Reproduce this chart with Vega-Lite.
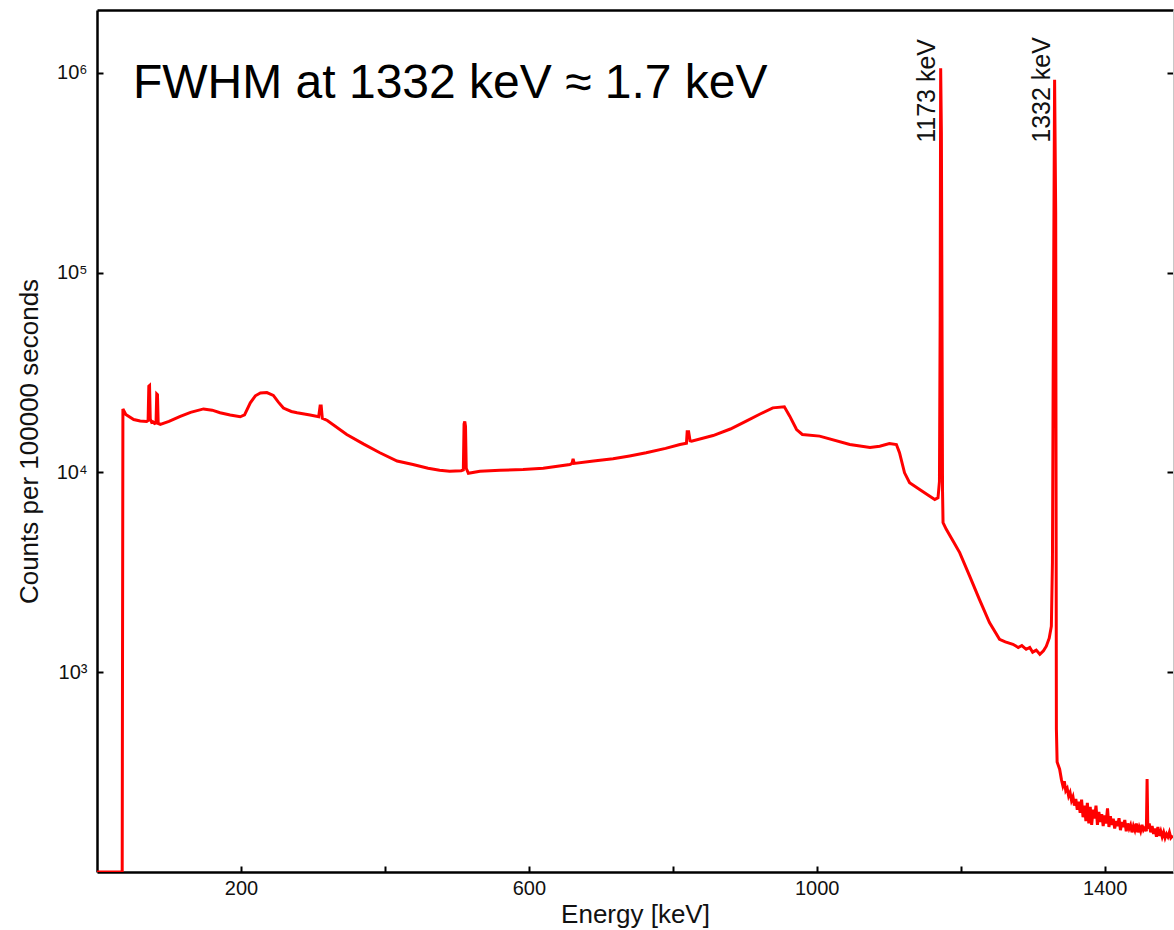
{
  "$schema": "https://vega.github.io/schema/vega-lite/v6.json",
  "width": 1076,
  "height": 862,
  "autosize": {"type": "none"},
  "padding": {"left": 97, "top": 10, "right": 1, "bottom": 58},
  "background": "white",
  "config": {"font": "Liberation Sans", "view": {"stroke": null}},
  "datasets": {
    "spectrum": [
      {"energy": 0, "counts": 100}, {"energy": 35, "counts": 100}, {"energy": 36, "counts": 20800},
      {"energy": 40, "counts": 19500}, {"energy": 51, "counts": 18400}, {"energy": 60, "counts": 18100},
      {"energy": 69, "counts": 18000}, {"energy": 71, "counts": 18200}, {"energy": 72, "counts": 27000},
      {"energy": 73, "counts": 27200}, {"energy": 74, "counts": 18500}, {"energy": 76, "counts": 17800},
      {"energy": 78, "counts": 17900}, {"energy": 80, "counts": 17600}, {"energy": 82, "counts": 17700},
      {"energy": 83, "counts": 24700}, {"energy": 84, "counts": 24500}, {"energy": 85, "counts": 17600},
      {"energy": 88, "counts": 17400}, {"energy": 100, "counts": 18000}, {"energy": 115.7, "counts": 19100},
      {"energy": 130, "counts": 20000}, {"energy": 148, "counts": 20800}, {"energy": 160, "counts": 20500},
      {"energy": 171, "counts": 19900}, {"energy": 185, "counts": 19400}, {"energy": 199, "counts": 19000},
      {"energy": 205, "counts": 19400}, {"energy": 213, "counts": 22300}, {"energy": 220, "counts": 24200},
      {"energy": 227, "counts": 25000}, {"energy": 236, "counts": 25100}, {"energy": 245, "counts": 24300},
      {"energy": 252, "counts": 22500}, {"energy": 259, "counts": 21000}, {"energy": 270, "counts": 20200},
      {"energy": 278, "counts": 19900}, {"energy": 296, "counts": 19400}, {"energy": 308, "counts": 19000},
      {"energy": 310, "counts": 21500}, {"energy": 311.5, "counts": 21500}, {"energy": 313, "counts": 18700},
      {"energy": 320, "counts": 18200}, {"energy": 347, "counts": 15500}, {"energy": 370, "counts": 13900},
      {"energy": 393, "counts": 12550}, {"energy": 417, "counts": 11400}, {"energy": 439, "counts": 10960},
      {"energy": 460, "counts": 10500}, {"energy": 476, "counts": 10270}, {"energy": 490, "counts": 10150},
      {"energy": 506, "counts": 10200}, {"energy": 509, "counts": 10300}, {"energy": 510, "counts": 17500},
      {"energy": 511, "counts": 18000}, {"energy": 512, "counts": 17000}, {"energy": 513, "counts": 10500},
      {"energy": 516, "counts": 9900}, {"energy": 532, "counts": 10150}, {"energy": 560, "counts": 10250},
      {"energy": 592, "counts": 10350}, {"energy": 620, "counts": 10500}, {"energy": 657, "counts": 10960},
      {"energy": 660, "counts": 11100}, {"energy": 661.5, "counts": 11700}, {"energy": 663, "counts": 11100},
      {"energy": 690, "counts": 11400}, {"energy": 717, "counts": 11700}, {"energy": 740, "counts": 12100},
      {"energy": 763, "counts": 12550}, {"energy": 790, "counts": 13200}, {"energy": 810, "counts": 13800},
      {"energy": 819, "counts": 14000}, {"energy": 820, "counts": 16000}, {"energy": 822, "counts": 16000},
      {"energy": 824, "counts": 14400}, {"energy": 826, "counts": 14350}, {"energy": 856, "counts": 15300},
      {"energy": 880, "counts": 16500}, {"energy": 902, "counts": 18060}, {"energy": 920, "counts": 19500},
      {"energy": 939, "counts": 21050}, {"energy": 955, "counts": 21300}, {"energy": 962.5, "counts": 19130},
      {"energy": 972, "counts": 16400}, {"energy": 980, "counts": 15500}, {"energy": 1004, "counts": 15200},
      {"energy": 1046, "counts": 13800}, {"energy": 1074, "counts": 13330}, {"energy": 1087.5, "counts": 13540},
      {"energy": 1101, "counts": 13960}, {"energy": 1110.7, "counts": 13800}, {"energy": 1115, "counts": 12550},
      {"energy": 1122, "counts": 9960}, {"energy": 1129, "counts": 8880}, {"energy": 1143, "counts": 8220},
      {"energy": 1155, "counts": 7700}, {"energy": 1164, "counts": 7330}, {"energy": 1168.5, "counts": 7470},
      {"energy": 1170.5, "counts": 9000}, {"energy": 1171.5, "counts": 60000}, {"energy": 1172.2, "counts": 1056000},
      {"energy": 1173.2, "counts": 500000}, {"energy": 1174.8, "counts": 8000}, {"energy": 1175.5, "counts": 5600},
      {"energy": 1180, "counts": 5190}, {"energy": 1190, "counts": 4500}, {"energy": 1198.6, "counts": 3970},
      {"energy": 1212.5, "counts": 3030}, {"energy": 1226, "counts": 2317}, {"energy": 1240, "counts": 1772},
      {"energy": 1254, "counts": 1462}, {"energy": 1262, "counts": 1420}, {"energy": 1272.6, "counts": 1380},
      {"energy": 1280, "counts": 1330}, {"energy": 1285, "counts": 1360}, {"energy": 1291, "counts": 1303},
      {"energy": 1296, "counts": 1330}, {"energy": 1300, "counts": 1260}, {"energy": 1305, "counts": 1290},
      {"energy": 1310, "counts": 1230}, {"energy": 1315, "counts": 1280}, {"energy": 1319, "counts": 1350},
      {"energy": 1323, "counts": 1480}, {"energy": 1326, "counts": 1700}, {"energy": 1327.5, "counts": 3550},
      {"energy": 1328.5, "counts": 30000}, {"energy": 1330.5, "counts": 923000}, {"energy": 1332, "counts": 200000},
      {"energy": 1333, "counts": 519}, {"energy": 1334, "counts": 355}, {"energy": 1337.5, "counts": 327},
      {"energy": 1340, "counts": 290}, {"energy": 1342, "counts": 270}, {"energy": 1344, "counts": 285},
      {"energy": 1346, "counts": 255}, {"energy": 1348, "counts": 262}, {"energy": 1350, "counts": 240},
      {"energy": 1352, "counts": 250}, {"energy": 1354, "counts": 228}, {"energy": 1356, "counts": 238},
      {"energy": 1358, "counts": 215}, {"energy": 1360, "counts": 232}, {"energy": 1362, "counts": 205},
      {"energy": 1364, "counts": 225}, {"energy": 1366, "counts": 198}, {"energy": 1368, "counts": 230},
      {"energy": 1370, "counts": 188}, {"energy": 1372, "counts": 215}, {"energy": 1374, "counts": 180},
      {"energy": 1376, "counts": 222}, {"energy": 1378, "counts": 175}, {"energy": 1380, "counts": 212},
      {"energy": 1382, "counts": 172}, {"energy": 1384, "counts": 205}, {"energy": 1386, "counts": 185},
      {"energy": 1388, "counts": 215}, {"energy": 1390, "counts": 172}, {"energy": 1392, "counts": 200},
      {"energy": 1394, "counts": 178}, {"energy": 1396, "counts": 195}, {"energy": 1398, "counts": 170},
      {"energy": 1400, "counts": 192}, {"energy": 1402, "counts": 175}, {"energy": 1404, "counts": 208},
      {"energy": 1406, "counts": 168}, {"energy": 1408, "counts": 190}, {"energy": 1410, "counts": 172},
      {"energy": 1412, "counts": 185}, {"energy": 1414, "counts": 165}, {"energy": 1416, "counts": 180},
      {"energy": 1418, "counts": 170}, {"energy": 1420, "counts": 186}, {"energy": 1422, "counts": 162},
      {"energy": 1424, "counts": 178}, {"energy": 1426, "counts": 168}, {"energy": 1428, "counts": 182},
      {"energy": 1430, "counts": 160}, {"energy": 1432, "counts": 175}, {"energy": 1434, "counts": 165},
      {"energy": 1436, "counts": 172}, {"energy": 1438, "counts": 158}, {"energy": 1440, "counts": 170},
      {"energy": 1442, "counts": 162}, {"energy": 1444, "counts": 175}, {"energy": 1446, "counts": 158},
      {"energy": 1448, "counts": 168}, {"energy": 1450, "counts": 160}, {"energy": 1452, "counts": 172},
      {"energy": 1454, "counts": 162}, {"energy": 1456, "counts": 166}, {"energy": 1458, "counts": 160},
      {"energy": 1459, "counts": 292}, {"energy": 1460, "counts": 165}, {"energy": 1462, "counts": 175},
      {"energy": 1464, "counts": 158}, {"energy": 1466, "counts": 170}, {"energy": 1468, "counts": 155},
      {"energy": 1470, "counts": 165}, {"energy": 1472, "counts": 150}, {"energy": 1474, "counts": 168},
      {"energy": 1476, "counts": 152}, {"energy": 1478, "counts": 160}, {"energy": 1480, "counts": 150},
      {"energy": 1482, "counts": 158}, {"energy": 1484, "counts": 148}, {"energy": 1486, "counts": 155},
      {"energy": 1488, "counts": 150}, {"energy": 1490, "counts": 158}, {"energy": 1492, "counts": 148},
      {"energy": 1495, "counts": 152}
    ],
    "peaks": [
      {"energy": 1173, "label": "1173 keV"},
      {"energy": 1332, "label": "1332 keV"}
    ],
    "note": [
      {"energy": 50, "counts": 750000, "label": "FWHM at 1332 keV ≈ 1.7 keV"}
    ]
  },
  "layer": [
    {
      "data": {"name": "spectrum"},
      "mark": {"type": "line", "color": "#ff0000", "strokeWidth": 3, "clip": true},
      "encoding": {
        "x": {
          "field": "energy", "type": "quantitative",
          "scale": {"domain": [0, 1495], "nice": false, "zero": false},
          "axis": {
            "orient": "bottom", "title": "Energy [keV]", "grid": false,
            "values": [200, 400, 600, 800, 1000, 1200, 1400], "format": "d",
            "labelExpr": "datum.value % 400 == 200 ? datum.label : ''",
            "tickSize": -6, "tickWidth": 2, "tickColor": "#000",
            "domainColor": "#000", "domainWidth": 2.5,
            "labelPadding": 12, "labelFontSize": 20, "labelColor": "#111",
            "titleFontSize": 26, "titleFontWeight": "normal", "titleColor": "#111", "titlePadding": 3
          }
        },
        "y": {
          "field": "counts", "type": "quantitative",
          "scale": {"type": "log", "domain": [100, 2065000], "nice": false},
          "axis": {
            "orient": "left", "title": "Counts per 100000 seconds", "grid": false,
            "values": [1000, 10000, 100000, 1000000],
            "labelExpr": "'10' + ['³','⁴','⁵','⁶'][round(log(datum.value)/LN10) - 3]",
            "tickSize": -6, "tickWidth": 2, "tickColor": "#000",
            "domainColor": "#000", "domainWidth": 2.5,
            "labelPadding": 16, "labelFontSize": 20, "labelColor": "#111",
            "titleFontSize": 26, "titleFontWeight": "normal", "titleColor": "#111", "titlePadding": 14
          }
        }
      }
    },
    {
      "data": {"name": "peaks"},
      "mark": {"type": "text", "angle": 270, "align": "left", "baseline": "alphabetic", "fontSize": 25, "dy": -6, "color": "#111"},
      "encoding": {
        "x": {
          "field": "energy", "type": "quantitative",
          "scale": {"domain": [0, 1495], "nice": false, "zero": false},
          "axis": {"orient": "top", "ticks": false, "labels": false, "title": null, "grid": false, "domainColor": "#000", "domainWidth": 2.5}
        },
        "y": {
          "datum": 447000, "type": "quantitative",
          "scale": {"type": "log", "domain": [100, 2065000], "nice": false},
          "axis": {
            "orient": "right", "title": null, "labels": false, "grid": false,
            "values": [1000, 10000, 100000, 1000000],
            "tickSize": -6, "tickWidth": 2, "tickColor": "#000",
            "domainColor": "#c8c8c8", "domainWidth": 1
          }
        },
        "text": {"field": "label"}
      }
    },
    {
      "data": {"name": "note"},
      "mark": {"type": "text", "align": "left", "baseline": "alphabetic", "fontSize": 48, "color": "#000"},
      "encoding": {
        "x": {"field": "energy", "type": "quantitative", "scale": {"domain": [0, 1495], "nice": false, "zero": false}, "axis": null},
        "y": {"field": "counts", "type": "quantitative", "scale": {"type": "log", "domain": [100, 2065000], "nice": false}, "axis": null},
        "text": {"field": "label"}
      }
    }
  ],
  "resolve": {"axis": {"x": "independent", "y": "independent"}}
}
